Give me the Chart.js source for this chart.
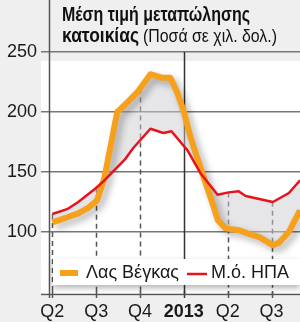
<!DOCTYPE html>
<html>
<head>
<meta charset="utf-8">
<script src="https://cdn.jsdelivr.net/npm/chart.js@4.4.1/dist/chart.umd.min.js"></script>
<style>
	html, body { margin: 0; padding: 0; background: #efefef; }
	canvas { display: block; }
</style>
</head>
<body>
<canvas id="priceChart" width="300" height="322"></canvas>
<script>
(function () {
	'use strict';

	// months counted from Q2 (0 = start of Q2)
	var vegasMonths = [0, 1.08, 1.77, 2.45, 3.07, 3.56, 4.44, 5.13, 5.82, 6.71, 7.53, 8.08, 8.56, 8.97, 9.46, 9.8, 10.35, 11.04, 11.32, 11.86, 12.75, 13.44, 14.13, 15.09, 15.5, 16.19, 16.95];
	var vegasValues = [108, 112.5, 115.5, 120, 126.5, 145, 200, 208, 216.5, 231.5, 228.5, 228.5, 216, 201.5, 179, 166, 146, 121, 110, 103, 101.5, 98.5, 96, 89, 91, 100, 118];
	var usMonths = [0, 1.01, 1.77, 2.93, 3.48, 5, 5.54, 6.71, 7.6, 8.15, 9.25, 10.14, 11.31, 12.06, 12.75, 13.23, 15.09, 16.19, 16.95];
	var usValues = [115, 119, 125, 136, 142, 161, 170, 186, 182.5, 184, 168, 149, 131, 133, 134, 130, 125, 132.5, 143];

	var tickMonths = [0, 3, 6, 9, 12, 15];
	var tickLabels = ['Q2', 'Q3', 'Q4', '2013', 'Q2', 'Q3'];
	var yTicks = [100, 150, 200, 250];
	var seriesNames = ['Λας Βέγκας', 'Μ.ό. ΗΠΑ'];

	var orange = '#f6a01c';
	var red = '#e8121c';
	var gridGray = '#777777';
	var sans = "'Liberation Sans', Arial, sans-serif";

	function points(xs, ys) {
		return xs.map(function (x, i) {
			return { x: x, y: ys[i] };
		});
	}

	function valueAt(xs, ys, m) {
		for (var i = 1; i < xs.length; i++) {
			if (m <= xs[i]) {
				var t = (m - xs[i - 1]) / (xs[i] - xs[i - 1]);
				return ys[i - 1] + t * (ys[i] - ys[i - 1]);
			}
		}
		return ys[ys.length - 1];
	}

	// condensed look: squeeze text to the width it has in the print
	function fitText(ctx, text, x, y, width) {
		var w = ctx.measureText(text).width;
		ctx.save();
		ctx.translate(x, y);
		ctx.scale(width / w, 1);
		ctx.fillText(text, 0, 0);
		ctx.restore();
	}

	var decor = {
		id: 'decor',
		beforeDraw: function (chart) {
			var ctx = chart.ctx;
			ctx.save();
			ctx.fillStyle = '#efefef';
			ctx.fillRect(0, 0, chart.width, chart.height);
			ctx.fillStyle = '#ffffff';
			ctx.fillRect(41, 61, chart.width - 41, 235);
			ctx.restore();
		},
		beforeDatasetsDraw: function (chart) {
			var ctx = chart.ctx,
				xs = chart.scales.x,
				ys = chart.scales.y,
				area = chart.chartArea;
			ctx.save();
			ctx.lineWidth = 1.5;
			tickMonths.forEach(function (m, i) {
				var px = Math.round(xs.getPixelForValue(m)) + 0.5;
				ctx.beginPath();
				if (tickLabels[i] === '2013') {
					ctx.setLineDash([]);
					ctx.strokeStyle = '#333333';
					ctx.moveTo(px, ys.getPixelForValue(250));
				} else {
					ctx.setLineDash([5, 4]);
					ctx.strokeStyle = '#555555';
					var top = Math.max(valueAt(vegasMonths, vegasValues, m), valueAt(usMonths, usValues, m));
					ctx.moveTo(px, ys.getPixelForValue(top));
				}
				ctx.lineTo(px, area.bottom);
				ctx.stroke();
				ctx.setLineDash([]);
				ctx.beginPath();
				ctx.moveTo(px, area.bottom - 3);
				ctx.lineTo(px, area.bottom + 4);
				ctx.stroke();
			});
			// axis lines running past the plot
			ctx.strokeStyle = '#555555';
			ctx.beginPath();
			ctx.moveTo(area.left + 0.5, 0);
			ctx.lineTo(area.left + 0.5, area.bottom + 4);
			ctx.moveTo(41, area.bottom + 0.5);
			ctx.lineTo(chart.width, area.bottom + 0.5);
			ctx.stroke();
			ctx.restore();
		},
		beforeDatasetDraw: function (chart, args) {
			if (args.index === 0) {
				var ctx = chart.ctx;
				ctx.save();
				ctx.shadowColor = 'rgba(0,0,0,0.3)';
				ctx.shadowBlur = 7;
				ctx.shadowOffsetX = 4;
				ctx.shadowOffsetY = 4;
			}
		},
		afterDatasetDraw: function (chart, args) {
			if (args.index === 0) {
				chart.ctx.restore();
			}
		},
		afterDatasetsDraw: function (chart) {
			var ctx = chart.ctx,
				sets = chart.data.datasets;
			ctx.save();
			ctx.shadowColor = 'rgba(0,0,0,0.3)';
			ctx.shadowBlur = 6;
			ctx.shadowOffsetY = 3;
			ctx.fillStyle = '#ffffff';
			ctx.fillRect(53, 259, chart.width - 53, 26);
			ctx.shadowColor = 'transparent';
			ctx.lineCap = 'butt';
			ctx.font = '18px ' + sans;
			ctx.textBaseline = 'middle';
			ctx.fillStyle = '#1a1a1a';

			ctx.strokeStyle = sets[0].borderColor;
			ctx.lineWidth = 6;
			ctx.beginPath();
			ctx.moveTo(60, 273);
			ctx.lineTo(78, 273);
			ctx.stroke();
			ctx.fillText(sets[0].label, 86, 273);

			ctx.strokeStyle = sets[1].borderColor;
			ctx.lineWidth = 2.5;
			ctx.beginPath();
			ctx.moveTo(187, 274);
			ctx.lineTo(207, 274);
			ctx.stroke();
			ctx.fillText(sets[1].label, 211, 273);
			ctx.restore();
		},
		afterDraw: function (chart) {
			var ctx = chart.ctx;
			ctx.save();
			ctx.fillStyle = '#111111';
			ctx.textBaseline = 'alphabetic';
			ctx.font = 'bold 20px ' + sans;
			fitText(ctx, 'Μέση τιμή μεταπώλησης', 62, 21, 188);
			fitText(ctx, 'κατοικίας', 62, 42, 77);
			ctx.font = '18px ' + sans;
			fitText(ctx, '(Ποσά σε χιλ. δολ.)', 143, 42, 134);
			ctx.restore();
		}
	};

	new Chart(document.getElementById('priceChart'), {
		type: 'line',
		data: {
			datasets: [{
					label: seriesNames[0],
					data: points(vegasMonths, vegasValues),
					borderColor: orange,
					borderWidth: 6,
					pointRadius: 0,
					tension: 0,
					borderJoinStyle: 'round',
					fill: 1,
					backgroundColor: 'rgba(205,205,210,0.5)',
					order: 1
				},
				{
					label: seriesNames[1],
					data: points(usMonths, usValues),
					borderColor: red,
					borderWidth: 2.5,
					pointRadius: 0,
					tension: 0,
					borderJoinStyle: 'round',
					fill: false,
					order: 0
				}
			]
		},
		options: {
			responsive: false,
			animation: false,
			devicePixelRatio: 1,
			layout: {
				padding: { top: 52, right: 0, left: 0, bottom: 0 }
			},
			plugins: {
				legend: { display: false },
				tooltip: { enabled: false }
			},
			scales: {
				x: {
					type: 'linear',
					min: -0.23,
					max: 16.95,
					afterBuildTicks: function (scale) {
						scale.ticks = tickMonths.map(function (m) {
							return { value: m };
						});
					},
					afterFit: function (scale) {
						scale.height = 28;
					},
					grid: { display: false, drawTicks: false },
					border: { display: false },
					ticks: {
						autoSkip: false,
						maxRotation: 0,
						padding: 7,
						color: '#1a1a1a',
						font: function (ctx) {
							var bold = ctx.tick && tickLabels[tickMonths.indexOf(ctx.tick.value)] === '2013';
							return { family: sans, size: 18, weight: bold ? 'bold' : 'normal' };
						},
						callback: function (value) {
							return tickLabels[tickMonths.indexOf(value)];
						}
					}
				},
				y: {
					min: 48.3,
					max: 250,
					afterBuildTicks: function (scale) {
						scale.ticks = yTicks.map(function (v) {
							return { value: v };
						});
					},
					afterFit: function (scale) {
						scale.width = 49;
					},
					grid: {
						color: gridGray,
						lineWidth: 1.5,
						tickLength: 8
					},
					border: { display: false },
					ticks: {
						padding: 4,
						color: '#1a1a1a',
						font: { family: sans, size: 18 }
					}
				}
			}
		},
		plugins: [decor]
	});
})();
</script>
</body>
</html>
